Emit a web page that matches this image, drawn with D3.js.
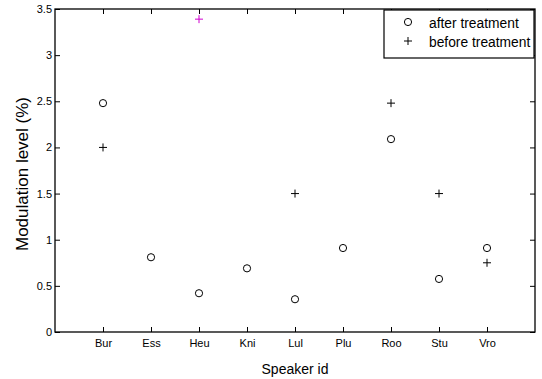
<!DOCTYPE html>
<html>
<head>
<meta charset="utf-8">
<script src="https://cdn.jsdelivr.net/npm/d3@7"></script>
<style>
  html, body { margin: 0; padding: 0; background: #fff; }
  svg { display: block; font-family: "Liberation Sans", Arial, sans-serif; }
</style>
</head>
<body>
<svg id="chart" width="542" height="379"></svg>
<script>
// Speakers and modulation levels (%)
const speakers = ["Bur", "Ess", "Heu", "Kni", "Lul", "Plu", "Roo", "Stu", "Vro"];
const afterTreatment = [2.48, 0.81, 0.42, 0.69, 0.355, 0.91, 2.09, 0.575, 0.91];
const beforeTreatment = [2.0, null, 3.39, null, 1.5, null, 2.48, 1.5, 0.75];
const yTicks = [0, 0.5, 1, 1.5, 2, 2.5, 3, 3.5];
const legendLabels = ["after treatment", "before treatment"];

(function () {
const svg = d3.select("#chart");
const mLeft = 55, mRight = 535, mTop = 9, mBottom = 332;

const x = d3.scaleLinear().domain([0, speakers.length + 1]).range([mLeft, mRight]);
const y = d3.scaleLinear().domain([0, 3.5]).range([mBottom, mTop]);
const tickLen = 5;

// Axes box
svg.append("rect")
  .attr("x", mLeft).attr("y", mTop)
  .attr("width", mRight - mLeft).attr("height", mBottom - mTop)
  .attr("fill", "none").attr("stroke", "#000").attr("stroke-width", 1.3);

const xTickVals = speakers.map((d, i) => i + 1);

// Bottom axis (ticks pointing inward)
const xAxis = d3.axisBottom(x).tickValues(xTickVals)
  .tickFormat((d, i) => speakers[i]).tickSizeInner(-tickLen).tickSizeOuter(0).tickPadding(7);
const gx = svg.append("g").attr("transform", `translate(0,${mBottom})`).call(xAxis);
// Top mirror ticks
const gxt = svg.append("g").attr("transform", `translate(0,${mTop})`)
  .call(d3.axisTop(x).tickValues(xTickVals).tickFormat("").tickSizeInner(-tickLen).tickSizeOuter(0));

// Left axis
const yAxis = d3.axisLeft(y).tickValues(yTicks).tickFormat(d3.format("~g"))
  .tickSizeInner(-tickLen).tickSizeOuter(0).tickPadding(3);
const gy = svg.append("g").attr("transform", `translate(${mLeft},0)`).call(yAxis);
// Right mirror ticks
const gyr = svg.append("g").attr("transform", `translate(${mRight},0)`)
  .call(d3.axisRight(y).tickValues(yTicks).tickFormat("").tickSizeInner(-tickLen).tickSizeOuter(0));

[gx, gxt, gy, gyr].forEach(g => {
  g.select(".domain").remove();
  g.selectAll("line").attr("stroke", "#000").attr("stroke-width", 1);
  g.selectAll("text").attr("fill", "#000").style("font-size", "11px")
    .style("font-family", "'Liberation Sans', Arial, sans-serif");
});

// Axis titles
svg.append("text")
  .attr("x", (mLeft + mRight) / 2).attr("y", 374)
  .attr("text-anchor", "middle").style("font-size", "14px").text("Speaker id");
svg.append("text")
  .attr("transform", `translate(28,174) rotate(-90)`)
  .attr("text-anchor", "middle").style("font-size", "17px").text("Modulation level (%)");

// Markers
const plusPath = s => `M${-s},0H${s}M0,${-s}V${s}`;

svg.append("g").selectAll("circle")
  .data(afterTreatment.map((v, i) => ({ i, v })).filter(d => d.v != null))
  .join("circle")
  .attr("cx", d => x(d.i + 1)).attr("cy", d => y(d.v)).attr("r", 3.6)
  .attr("fill", "none").attr("stroke", "#000").attr("stroke-width", 1);

svg.append("g").selectAll("path")
  .data(beforeTreatment.map((v, i) => ({ i, v })).filter(d => d.v != null))
  .join("path")
  .attr("transform", d => `translate(${x(d.i + 1)},${y(d.v)})`)
  .attr("d", plusPath(4))
  .attr("fill", "none")
  .attr("stroke", d => y(d.v) < mTop + 12 ? "#d000d0" : "#000")
  .attr("stroke-width", 1);

// Legend
const lg = svg.append("g");
lg.append("rect")
  .attr("x", 384).attr("y", 10).attr("width", 150).attr("height", 48)
  .attr("fill", "#fff").attr("stroke", "#000").attr("stroke-width", 1.2);
lg.append("circle").attr("cx", 408).attr("cy", 22).attr("r", 3.6)
  .attr("fill", "none").attr("stroke", "#000");
lg.append("path").attr("transform", "translate(408,41)").attr("d", plusPath(4))
  .attr("stroke", "#000").attr("fill", "none");
legendLabels.forEach((t, k) => {
  lg.append("text").attr("x", 429).attr("y", 28 + k * 19)
    .style("font-size", "13.8px").attr("fill", "#000").text(t);
});
})();
</script>
</body>
</html>
